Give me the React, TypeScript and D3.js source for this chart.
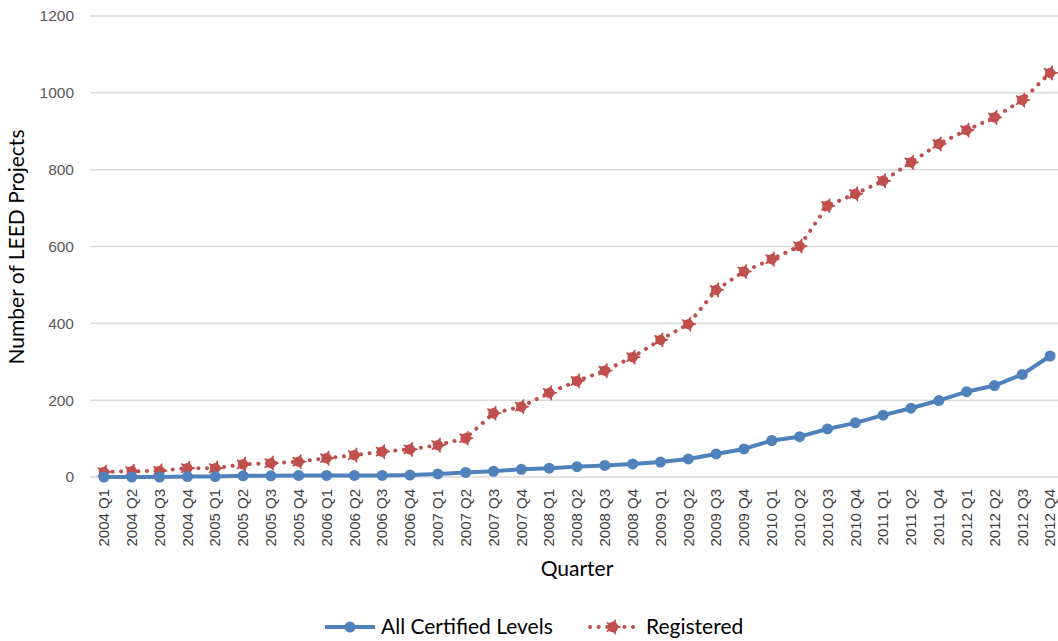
import React from "react";
import * as d3 from "d3";

const quarters = [
  "2004 Q1","2004 Q2","2004 Q3","2004 Q4",
  "2005 Q1","2005 Q2","2005 Q3","2005 Q4",
  "2006 Q1","2006 Q2","2006 Q3","2006 Q4",
  "2007 Q1","2007 Q2","2007 Q3","2007 Q4",
  "2008 Q1","2008 Q2","2008 Q3","2008 Q4",
  "2009 Q1","2009 Q2","2009 Q3","2009 Q4",
  "2010 Q1","2010 Q2","2010 Q3","2010 Q4",
  "2011 Q1","2011 Q2","2011 Q4",
  "2012 Q1","2012 Q2","2012 Q3","2012 Q4",
];

const certified = [
  0, 0, 0, 1,
  1, 3, 3, 4,
  4, 4, 4, 5,
  8, 12, 15, 20,
  23, 27, 30, 34,
  39, 47, 60, 73,
  95, 105, 125, 141,
  161, 179, 199,
  222, 238, 267, 315,
];

const registered = [
  13, 15, 16, 23,
  23, 33, 36, 40,
  49, 57, 66, 72,
  83, 101, 166, 183,
  219, 250, 277, 312,
  357, 398, 487, 535,
  567, 601, 706, 737,
  771, 819, 867,
  903, 936, 981, 1052,
];

const yTicks = [0, 200, 400, 600, 800, 1000, 1200];

const W = 1058;
const H = 641;
const plot = { left: 90, right: 1064, top: 16, bottom: 477 };

const BLUE = "#4F81BD";
const RED = "#C0504D";
const FONT = "Lato, 'Open Sans', sans-serif";
const TICKFONT = "'Liberation Sans', Arial, sans-serif";

function RedMarker({ x, y }: { x: number; y: number }) {
  const star = d3.symbol().type(d3.symbolStar).size(60)() as string;
  return (
    <g transform={`translate(${x},${y})`}>
      <circle r={5.2} fill={RED} />
      <path d={star} fill={RED} stroke={RED} strokeWidth={1.2} strokeLinejoin="round" transform="rotate(18)" />
    </g>
  );
}

export default function App() {
  const x = d3
    .scalePoint<string>()
    .domain(quarters)
    .range([plot.left, plot.right])
    .padding(0.5);
  const y = d3.scaleLinear().domain([0, 1200]).range([plot.bottom, plot.top]);

  const line = d3
    .line<number>()
    .x((_, i) => x(quarters[i]) as number)
    .y((d) => y(d));

  return (
    <svg width={W} height={H} style={{ display: "block", position: "absolute", left: 0, top: 0 }}>
      <rect width={W} height={H} fill="#fff" />
      {yTicks.map((t) => (
        <g key={t}>
          <line x1={plot.left} x2={plot.right} y1={y(t)} y2={y(t)} stroke="#d9d9d9" strokeWidth={1.5} />
          <text
            x={74}
            y={y(t)}
            dy="0.35em"
            textAnchor="end"
            fontFamily={TICKFONT}
            fontSize={15.5}
            fill="#595959"
          >
            {t}
          </text>
        </g>
      ))}
      {quarters.map((q) => (
        <text
          key={q}
          transform={`translate(${x(q)},489) rotate(-90)`}
          dy="0.35em"
          textAnchor="end"
          fontFamily={TICKFONT}
          fontSize={15}
          fill="#404040"
        >
          {q}
        </text>
      ))}
      <text
        transform={`translate(17,${247}) rotate(-90)`}
        textAnchor="middle"
        dy="0.35em"
        fontFamily={FONT}
        fontSize={21}
        fill="#000"
      >
        Number of LEED Projects
      </text>
      <text
        x={(plot.left + plot.right) / 2}
        y={576}
        textAnchor="middle"
        fontFamily={FONT}
        fontSize={21}
        fill="#000"
      >
        Quarter
      </text>

      <path
        d={line(registered) as string}
        fill="none"
        stroke={RED}
        strokeWidth={4}
        strokeLinecap="round"
        strokeDasharray="0.1 8.5"
      />
      {registered.map((v, i) => (
        <RedMarker key={i} x={x(quarters[i]) as number} y={y(v)} />
      ))}

      <path d={line(certified) as string} fill="none" stroke={BLUE} strokeWidth={4} strokeLinejoin="round" />
      {certified.map((v, i) => (
        <circle key={i} cx={x(quarters[i]) as number} cy={y(v)} r={5.5} fill={BLUE} />
      ))}

      <g>
        <line x1={325} x2={375} y1={627} y2={627} stroke={BLUE} strokeWidth={4} />
        <circle cx={350} cy={627} r={5.5} fill={BLUE} />
        <text x={381} y={627} dy="0.35em" fontFamily={FONT} fontSize={21} fill="#000">
          All Certified Levels
        </text>
        <line
          x1={590}
          x2={638}
          y1={627}
          y2={627}
          stroke={RED}
          strokeWidth={4}
          strokeLinecap="round"
          strokeDasharray="0.1 8.5"
        />
        <RedMarker x={613} y={627} />
        <text x={646} y={627} dy="0.35em" fontFamily={FONT} fontSize={21} fill="#000">
          Registered
        </text>
      </g>
    </svg>
  );
}
